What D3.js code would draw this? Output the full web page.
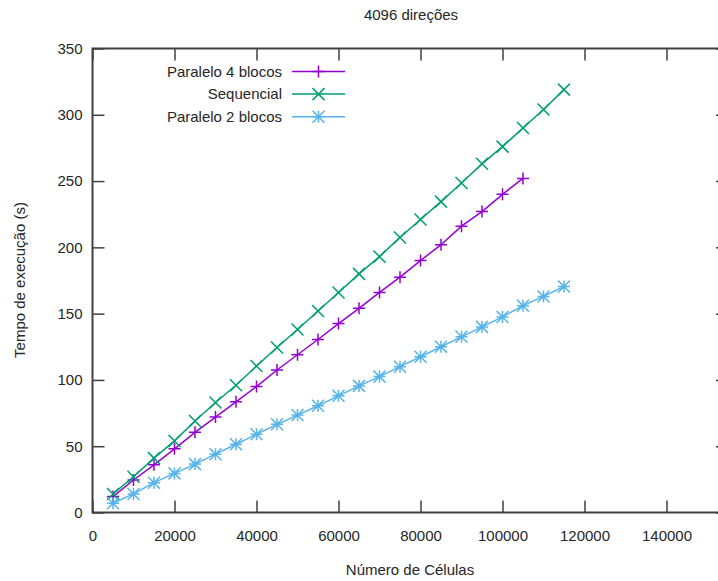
<!DOCTYPE html>
<html>
<head>
<meta charset="utf-8">
<script src="https://cdn.jsdelivr.net/npm/d3@7"></script>
<style>
  body { margin: 0; background: #fff; }
  svg { display: block; font-family: "Liberation Sans", Arial, sans-serif; }
</style>
</head>
<body>
<svg id="chart" width="718" height="581"></svg>
<script>
// data
const cells = [5000, 10000, 15000, 20000, 25000, 30000, 35000, 40000, 45000, 50000,
               55000, 60000, 65000, 70000, 75000, 80000, 85000, 90000, 95000, 100000,
               105000, 110000, 115000];
const paralelo4 = [12, 24.5, 36, 48, 60.5, 72, 83.5, 95, 107.5, 119,
                   130.5, 142.5, 154, 166, 177.5, 190, 202, 216, 227, 240, 252];
const sequencial = [14, 27, 41, 54, 69, 83, 96, 110.5, 124.5, 138,
                    152, 166, 180, 193, 207.5, 221, 234.5, 248.5, 263, 276,
                    290, 304, 319];
const paralelo2 = [7, 14, 22.5, 29.5, 36.5, 44, 51.5, 59, 66.5, 73.5,
                   80.5, 88, 95.5, 102.5, 110, 117.5, 125, 132.5, 140, 147.5,
                   156, 163, 170.5];
const xTicks = [0, 20000, 40000, 60000, 80000, 100000, 120000, 140000];
const yTicks = [0, 50, 100, 150, 200, 250, 300, 350];

const series = [
    { name: 'Paralelo 4 blocos', values: paralelo4, color: '#9400d3', marker: 'plus' },
    { name: 'Sequencial', values: sequencial, color: '#009e73', marker: 'cross' },
    { name: 'Paralelo 2 blocos', values: paralelo2, color: '#56b4e9', marker: 'star' }
];

const svg = d3.select('#chart');
const plotLeft = 92.5, plotRight = 728, plotTop = 48.5, plotBottom = 512.5;
const textColor = '#262626', borderColor = '#404040';

const x = d3.scaleLinear().domain([0, 155000]).range([plotLeft, plotRight]);
const y = d3.scaleLinear().domain([0, 350]).range([plotBottom, plotTop]);

// axes, gnuplot style: ticks pointing inward, mirrored on top/right
svg.append('g').attr('transform', `translate(0,${plotBottom})`)
    .call(d3.axisBottom(x).tickValues(xTicks).tickFormat(d3.format('d')).tickSize(-12).tickPadding(18));
svg.append('g').attr('transform', `translate(${plotLeft},0)`)
    .call(d3.axisLeft(y).tickValues(yTicks).tickSize(-12).tickPadding(10));
svg.append('g').attr('transform', `translate(0,${plotTop})`)
    .call(d3.axisTop(x).tickValues(xTicks).tickFormat('').tickSize(-12));
svg.append('g').attr('transform', `translate(${plotRight},0)`)
    .call(d3.axisRight(y).tickValues(yTicks).tickFormat('').tickSize(-12));

svg.selectAll('.domain').remove();
svg.selectAll('.tick line').attr('stroke', borderColor).attr('stroke-width', 1.5);
svg.selectAll('.tick text').attr('fill', textColor).style('font-size', '15px')
    .style('font-family', '"Liberation Sans", Arial, sans-serif');

svg.append('rect')
    .attr('x', plotLeft).attr('y', plotTop)
    .attr('width', plotRight - plotLeft).attr('height', plotBottom - plotTop)
    .attr('fill', 'none').attr('stroke', borderColor).attr('stroke-width', 2);

// markers
function drawMarker(g, type, cx, cy, color) {
    const s = 6;
    const d = [];
    if (type === 'plus' || type === 'star') {
        d.push(`M${cx - s},${cy}H${cx + s}M${cx},${cy - s}V${cy + s}`);
    }
    if (type === 'cross' || type === 'star') {
        d.push(`M${cx - s},${cy - s}L${cx + s},${cy + s}M${cx - s},${cy + s}L${cx + s},${cy - s}`);
    }
    g.append('path').attr('d', d.join('')).attr('stroke', color)
        .attr('stroke-width', 1.5).attr('fill', 'none');
}

const line = d3.line().x(d => x(d[0])).y(d => y(d[1]));

series.forEach(s => {
    const pts = s.values.map((v, i) => [cells[i], v]);
    const g = svg.append('g');
    g.append('path').datum(pts).attr('d', line)
        .attr('fill', 'none').attr('stroke', s.color).attr('stroke-width', 1.5);
    pts.forEach(p => drawMarker(g, s.marker, x(p[0]), y(p[1]), s.color));
});

// legend
const legend = svg.append('g');
series.forEach((s, i) => {
    const ly = 71.5 + i * 22.6;
    legend.append('text').attr('x', 282).attr('y', ly).attr('dy', '0.35em')
        .attr('text-anchor', 'end').attr('fill', textColor).style('font-size', '15px')
        .text(s.name);
    legend.append('line').attr('x1', 292).attr('x2', 345).attr('y1', ly).attr('y2', ly)
        .attr('stroke', s.color).attr('stroke-width', 1.5);
    drawMarker(legend, s.marker, 318.5, ly, s.color);
});

// titles
svg.append('text').attr('x', 411).attr('y', 20).attr('text-anchor', 'middle')
    .attr('fill', textColor).style('font-size', '15px').text('4096 direções');
svg.append('text').attr('x', 410).attr('y', 575).attr('text-anchor', 'middle')
    .attr('fill', textColor).style('font-size', '15px').text('Número de Células');
svg.append('text').attr('transform', 'translate(25,280) rotate(-90)').attr('text-anchor', 'middle')
    .attr('fill', textColor).style('font-size', '15px').text('Tempo de execução (s)');
</script>
</body>
</html>
